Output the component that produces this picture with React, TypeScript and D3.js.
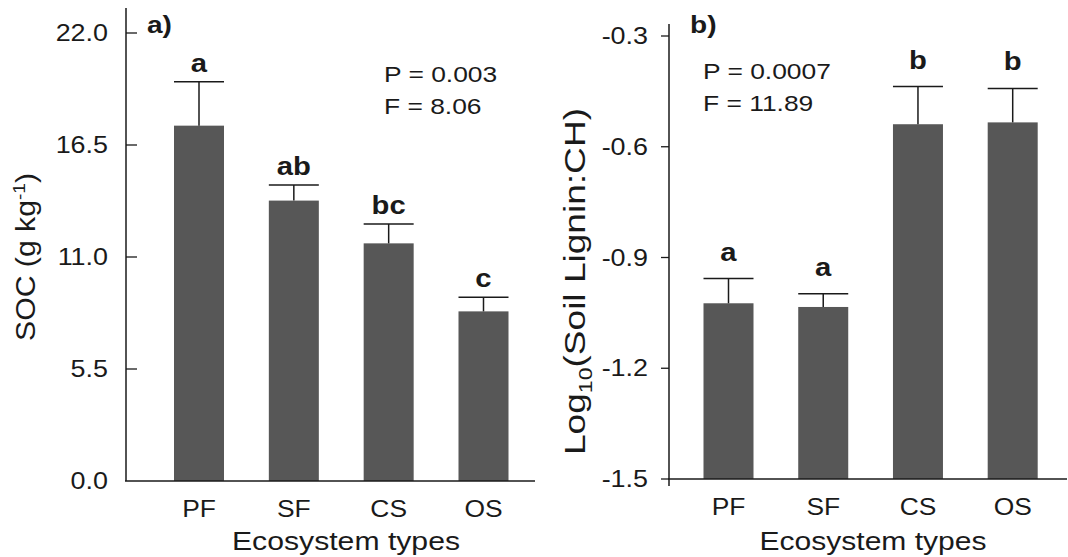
import React from "react";
import * as d3 from "d3";

const categories = ["PF", "SF", "CS", "OS"];

const socMean = [17.45, 13.77, 11.67, 8.33];
const socErr = [2.15, 0.77, 0.95, 0.69];
const socGroups = ["a", "ab", "bc", "c"];
const socTicks = [0, 5.5, 11, 16.5, 22];

const ligninMean = [-1.024, -1.034, -0.539, -0.534];
const ligninErr = [0.067, 0.036, 0.102, 0.092];
const ligninGroups = ["a", "a", "b", "b"];
const ligninTicks = [-1.5, -1.2, -0.9, -0.6, -0.3];

const FONT = "Liberation Sans, Arial, Helvetica, sans-serif";
const BAR = "#575757";
const INK = "#1a1a1a";
const SX = 1.17; // the original lettering is set wider than Arial

function Txt({ x, y, size, anchor = "start", bold = false, rot = 0, sx = SX, children }: any) {
  return (
    <text
      transform={`translate(${x},${y}) rotate(${rot}) scale(${sx},1)`}
      fontSize={size}
      fontFamily={FONT}
      fontWeight={bold ? "bold" : "normal"}
      textAnchor={anchor}
      fill={INK}
    >
      {children}
    </text>
  );
}

export default function App() {
  // plain hyphen for negatives, as in the original
  const fmt = (v: number) => d3.format(".1f")(v).replace("\u2212", "-");
  const barW = 50;

  // panel a
  const xL = d3.scalePoint<string>().domain(categories).range([199, 483.5]);
  const yL = d3.scaleLinear().domain([0, 22]).range([481, 33]);

  // panel b
  const xR = d3.scalePoint<string>().domain(categories).range([728.5, 1012.7]);
  const yR = d3.scaleLinear().domain([-1.5, -0.3]).range([479, 36]);

  return (
    <div style={{ position: "absolute", left: 0, top: 0 }}>
      <svg width={1068} height={557} style={{ display: "block", background: "#fff" }}>
        {/* ---------- panel a ---------- */}
        {categories.map((c, i) => {
          const cx = xL(c)!;
          const top = yL(socMean[i]);
          const cap = yL(socMean[i] + socErr[i]);
          return (
            <g key={"a" + c}>
              <rect x={cx - barW / 2} y={top} width={barW} height={yL(0) - top} fill={BAR} />
              <line x1={cx} x2={cx} y1={top} y2={cap} stroke={INK} strokeWidth={1.5} />
              <line x1={cx - barW / 2} x2={cx + barW / 2} y1={cap} y2={cap} stroke={INK} strokeWidth={1.5} />
              <Txt x={cx} y={cap - 10} size={25} bold anchor="middle">{socGroups[i]}</Txt>
              <Txt x={cx} y={516.5} size={24} anchor="middle" sx={1.1}>{c}</Txt>
            </g>
          );
        })}
        <line x1={126} x2={126} y1={8} y2={yL(0)} stroke={INK} strokeWidth={1.5} />
        <line x1={125} x2={535} y1={yL(0)} y2={yL(0)} stroke={INK} strokeWidth={1.5} />
        {socTicks.map((t) => (
          <g key={"ta" + t}>
            {t > 0 && <line x1={126} x2={137} y1={yL(t)} y2={yL(t)} stroke={INK} strokeWidth={1.3} />}
            <Txt x={108} y={yL(t) + 8} size={23} anchor="end">{fmt(t)}</Txt>
          </g>
        ))}
        <Txt x={147} y={33} size={24} bold>a)</Txt>
        <Txt x={384} y={81.5} size={22} sx={1.2}>P = 0.003</Txt>
        <Txt x={384} y={114} size={22} sx={1.2}>F = 8.06</Txt>
        <text
          transform="translate(35,257) rotate(-90)"
          fontSize={27}
          fontFamily={FONT}
          textAnchor="middle"
          textLength={168}
          lengthAdjust="spacingAndGlyphs"
          fill={INK}
        >
          SOC (g kg<tspan dy={-10} fontSize={17}>-1</tspan>
          <tspan dy={10}>)</tspan>
        </text>
        <text
          x={346}
          y={550}
          fontSize={26}
          fontFamily={FONT}
          textAnchor="middle"
          textLength={228}
          lengthAdjust="spacingAndGlyphs"
          fill={INK}
        >
          Ecosystem types
        </text>

        {/* ---------- panel b ---------- */}
        {categories.map((c, i) => {
          const cx = xR(c)!;
          const top = yR(ligninMean[i]);
          const cap = yR(ligninMean[i] + ligninErr[i]);
          return (
            <g key={"b" + c}>
              <rect x={cx - barW / 2} y={top} width={barW} height={yR(-1.5) - top} fill={BAR} />
              <line x1={cx} x2={cx} y1={top} y2={cap} stroke={INK} strokeWidth={1.5} />
              <line x1={cx - barW / 2} x2={cx + barW / 2} y1={cap} y2={cap} stroke={INK} strokeWidth={1.5} />
              <Txt x={cx} y={cap - 18} size={25} bold anchor="middle">{ligninGroups[i]}</Txt>
              <Txt x={cx} y={515} size={24} anchor="middle" sx={1.1}>{c}</Txt>
            </g>
          );
        })}
        <line x1={669} x2={669} y1={24} y2={486} stroke={INK} strokeWidth={1.5} />
        <line x1={668} x2={1067} y1={yR(-1.5)} y2={yR(-1.5)} stroke={INK} strokeWidth={1.5} />
        {ligninTicks.map((t) => (
          <g key={"tb" + t}>
            <line x1={661} x2={669} y1={yR(t)} y2={yR(t)} stroke={INK} strokeWidth={1.3} />
            <Txt x={648} y={yR(t) + 8} size={23} anchor="end">{fmt(t)}</Txt>
          </g>
        ))}
        <Txt x={690} y={33} size={24} bold>b)</Txt>
        <Txt x={703} y={78.5} size={22} sx={1.2}>P = 0.0007</Txt>
        <Txt x={703} y={111} size={22} sx={1.2}>F = 11.89</Txt>
        <text
          transform="translate(585,281.5) rotate(-90)"
          fontSize={29}
          fontFamily={FONT}
          textAnchor="middle"
          textLength={347}
          lengthAdjust="spacingAndGlyphs"
          fill={INK}
        >
          Log<tspan dy={7} fontSize={18}>10</tspan>
          <tspan dy={-7}>(Soil Lignin:CH)</tspan>
        </text>
        <text
          x={873}
          y={550}
          fontSize={26}
          fontFamily={FONT}
          textAnchor="middle"
          textLength={227}
          lengthAdjust="spacingAndGlyphs"
          fill={INK}
        >
          Ecosystem types
        </text>
      </svg>
    </div>
  );
}
